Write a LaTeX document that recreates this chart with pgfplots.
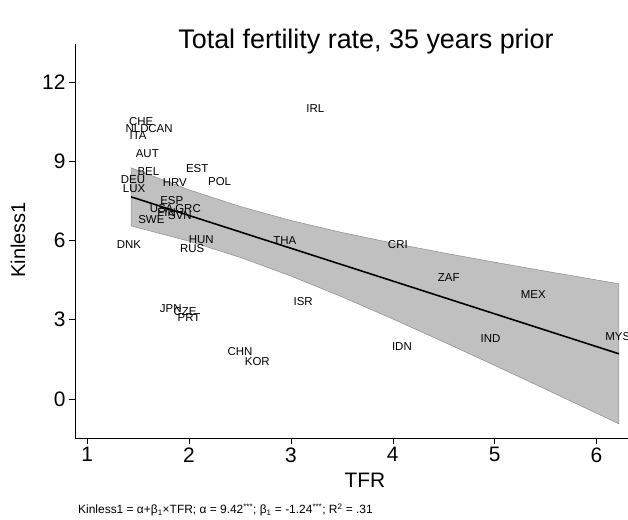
\documentclass[border=0pt]{standalone}
\usepackage{pgfplots}
\pgfplotsset{compat=1.18}
\usepackage{pgfplotstable}
\usepackage{fontspec}
\setmainfont{Liberation Sans}
\definecolor{bandfill}{RGB}{192,192,192}
\definecolor{bandedge}{RGB}{140,140,140}
\pgfplotstableread{
x y label
1.53 10.49 CHE
1.49 10.23 NLD
1.72 10.23 CAN
1.50 9.96 ITA
1.59 9.28 AUT
1.60 8.60 BEL
2.08 8.71 EST
1.45 8.30 DEU
1.86 8.18 HRV
2.30 8.22 POL
1.46 7.95 LUX
1.83 7.50 ESP
1.73 7.20 USA
1.99 7.20 GRC
1.78 7.05 FIN
1.91 6.93 SVN
1.63 6.78 SWE
1.41 5.83 DNK
2.12 6.02 HUN
2.03 5.68 RUS
2.94 5.98 THA
4.05 5.83 CRI
4.55 4.58 ZAF
5.38 3.94 MEX
6.21 2.35 MYS
4.96 2.27 IND
4.09 1.97 IDN
3.12 3.67 ISR
2.50 1.78 CHN
2.67 1.40 KOR
1.82 3.41 JPN
1.96 3.30 CZE
2.00 3.07 PRT
3.24 10.98 IRL
}\countries
\begin{document}
\begin{tikzpicture}[x=1bp,y=1bp]
\useasboundingbox (-75,-82) rectangle (553,438);
\begin{axis}[
  at={(0,0)}, anchor=south west,
  scale only axis, width=553bp, height=394bp,
  xmin=0.88, xmax=6.31, ymin=-1.48, ymax=13.43,
  axis x line*=bottom, axis y line*=left,
  xtick={1,2,3,4,5,6}, ytick={0,3,6,9,12},
  tick align=outside, major tick length=6bp,
  tick style={black, line width=0.4pt},
  axis line style={black, line width=0.5pt},
  /pgf/number format/assume math mode=true,
  ticklabel style={font=\fontsize{21}{21}\selectfont},
  clip=false,
]
\addplot[fill=bandfill, draw=bandedge, line width=0.5pt] coordinates {
(1.43,8.747) (2,7.912) (2.5,7.282) (3,6.751) (3.5,6.297) (4,5.895) (4.5,5.524) (5,5.172) (5.5,4.833) (6,4.502) (6.22,4.357)
(6.22,-0.943) (6,-0.542) (5.5,0.367) (5,1.268) (4.5,2.156) (4,3.025) (3.5,3.863) (3,4.649) (2.5,5.358) (2,5.968) (1.43,6.547)
} -- cycle;
\addplot[only marks, mark=*, mark size=0pt,
  nodes near coords, point meta=explicit symbolic,
  nodes near coords style={anchor=center, font=\fontsize{11.5}{11.5}\selectfont, text=black, inner sep=0pt, text opacity=1}]
  table[x=x, y=y, meta=label] {\countries};
\addplot[black, line width=1.6pt] coordinates {(1.43,7.647) (6.22,1.707)};
\end{axis}
\node[font=\fontsize{27}{27}\selectfont] at (291,396) {Total fertility rate, 35 years prior};
\node[font=\fontsize{20}{20}\selectfont, rotate=90] at (-57,198) {Kinless1};
\node[font=\fontsize{21}{21}\selectfont] at (290,-42) {TFR};
\node[font=\fontsize{12}{12}\selectfont, anchor=west, inner sep=0pt] at (3,-72) {Kinless1 = α+β\textsubscript{1}×TFR; α = 9.42\textsuperscript{***}; β\textsubscript{1} = -1.24\textsuperscript{***}; R\textsuperscript{2} = .31};
\end{tikzpicture}
\end{document}
